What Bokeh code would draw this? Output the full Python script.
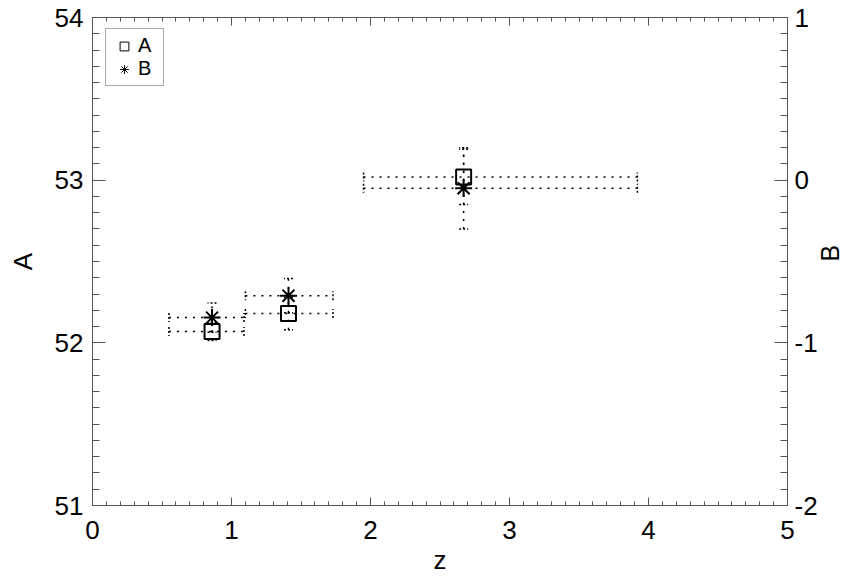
import math
from bokeh.plotting import figure
from bokeh.models import (LinearAxis, Range1d, SingleIntervalTicker, Whisker, TeeHead,
                          ColumnDataSource, Legend, LegendItem, CustomJSTickFormatter)
from bokeh.embed import file_html
from bokeh.resources import INLINE

# ---- data ----
z = [0.86, 1.41, 2.67]
z_lo = [0.55, 1.10, 1.95]
z_hi = [1.09, 1.73, 3.92]
a_val = [52.07, 52.18, 53.02]
a_err = [0.055, 0.10, 0.17]
b_val = [-0.845, -0.71, -0.05]
b_err = [0.09, 0.105, 0.25]

x_ticks = [0, 1, 2, 3, 4, 5]
a_ticks = [51, 52, 53, 54]
b_ticks = [-2, -1, 0, 1]

src = ColumnDataSource(dict(
    z=z, zl=z_lo, zh=z_hi,
    a=a_val, al=[v - e for v, e in zip(a_val, a_err)], ah=[v + e for v, e in zip(a_val, a_err)],
    b=b_val, bl=[v - e for v, e in zip(b_val, b_err)], bh=[v + e for v, e in zip(b_val, b_err)],
))
# legend-only stand-ins (no position, never drawn in the plot area)
legend_src = ColumnDataSource(dict(x=[float("nan")], y=[float("nan")]))

FONT = "Liberation Sans"
FS = "26px"
AX_COLOR = "#555555"

FW, FH = 695, 488
p = figure(frame_width=FW, frame_height=FH,
           x_range=Range1d(x_ticks[0], x_ticks[-1]), y_range=Range1d(a_ticks[0], a_ticks[-1]),
           output_backend="svg", toolbar_location=None,
           x_axis_location=None, y_axis_location=None,
           min_border_left=92, min_border_top=17, min_border_right=5, min_border_bottom=5)
p.extra_y_ranges = {"B": Range1d(b_ticks[0], b_ticks[-1])}
p.xgrid.visible = False
p.ygrid.visible = False
p.outline_line_color = None
p.background_fill_color = "white"
p.border_fill_color = "white"


def style(ax, major_len, minor_len):
    ax.axis_line_color = AX_COLOR
    ax.major_tick_line_color = AX_COLOR
    ax.minor_tick_line_color = AX_COLOR
    ax.major_tick_in = major_len
    ax.major_tick_out = 0
    ax.minor_tick_in = minor_len
    ax.minor_tick_out = 0
    ax.major_label_text_font = FONT
    ax.major_label_text_font_size = FS
    ax.major_label_text_color = "black"
    ax.axis_label_text_font = FONT
    ax.axis_label_text_font_style = "normal"
    ax.axis_label_text_font_size = FS
    ax.axis_label_text_color = "black"


plain = CustomJSTickFormatter(code="return tick.toFixed(0);")

xb = LinearAxis(ticker=SingleIntervalTicker(interval=1, num_minor_ticks=10), axis_label="z",
                formatter=plain)
style(xb, 8, 4)
xb.major_label_standoff = 15
xb.axis_label_standoff = 3
p.add_layout(xb, "below")

xt = LinearAxis(ticker=SingleIntervalTicker(interval=1, num_minor_ticks=10),
                formatter=CustomJSTickFormatter(code="return '';"))
style(xt, 8, 4)
xt.major_label_text_font_size = "1px"
xt.major_label_standoff = 0
p.add_layout(xt, "above")

yl = LinearAxis(ticker=SingleIntervalTicker(interval=1, num_minor_ticks=10), axis_label="A",
                formatter=plain)
style(yl, 13, 7)
yl.major_label_standoff = 9
yl.axis_label_standoff = 14
p.add_layout(yl, "left")

yr = LinearAxis(y_range_name="B", ticker=SingleIntervalTicker(interval=1, num_minor_ticks=10),
                formatter=plain, axis_label="B")
style(yr, 13, 7)
yr.major_label_standoff = 7
yr.axis_label_standoff = 9
yr.axis_label_text_font_size = "25px"
if "axis_label_orientation" in LinearAxis.properties():
    yr.axis_label_orientation = math.pi / 2
p.add_layout(yr, "right")

DASH = "2 6"


def whisker(base, lower, upper, dim, yname="default"):
    w = Whisker(base=base, lower=lower, upper=upper, dimension=dim, source=src,
                line_color="black", line_width=1.5, line_dash=DASH,
                lower_head=TeeHead(size=9, line_color="black", line_width=1.5, line_dash="2 2"),
                upper_head=TeeHead(size=9, line_color="black", line_width=1.5, line_dash="2 2"),
                y_range_name=yname)
    p.add_layout(w)


whisker("a", "zl", "zh", "width")
whisker("z", "al", "ah", "height")
whisker("b", "zl", "zh", "width", "B")
whisker("z", "bl", "bh", "height", "B")

p.scatter(x="z", y="a", source=src, marker="square", size=15,
          fill_color=None, line_color="black", line_width=2)
p.scatter(x="z", y="b", source=src, marker="asterisk", size=17,
          line_color="black", line_width=2, y_range_name="B")

lA = p.scatter(x="x", y="y", source=legend_src, marker="square", size=11,
               fill_color=None, line_color="black", line_width=1)
lB = p.scatter(x="x", y="y", source=legend_src, marker="asterisk", size=11,
               line_color="black", line_width=1)

leg = Legend(items=[LegendItem(label="A", renderers=[lA]), LegendItem(label="B", renderers=[lB])],
             location=(13, 419), orientation="vertical")
leg.margin = 0
leg.padding = 5
leg.spacing = 0
leg.glyph_width = 26
leg.glyph_height = 22
leg.label_standoff = 1
leg.label_text_font = FONT
leg.label_text_font_size = "20px"
leg.label_text_color = "black"
leg.label_height = 22
leg.border_line_color = AX_COLOR
leg.border_line_width = 1
leg.background_fill_color = "white"
leg.background_fill_alpha = 1
p.add_layout(leg, "center")

open("out.html", "w").write(file_html(p, INLINE))
